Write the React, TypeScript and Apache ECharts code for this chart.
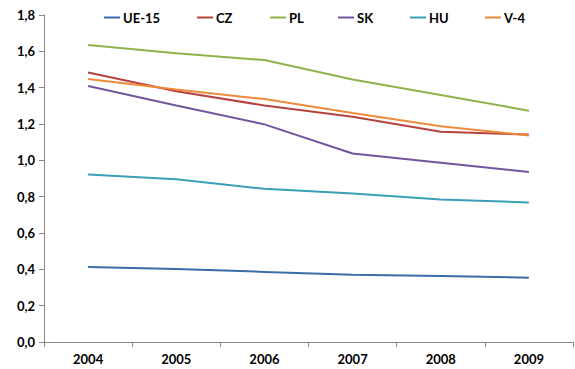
import React, { useEffect, useRef } from "react";
import * as echarts from "echarts";

const years = ["2004", "2005", "2006", "2007", "2008", "2009"];
const seriesNames = ["UE-15", "CZ", "PL", "SK", "HU", "V-4"];
const ue15 = [0.413, 0.402, 0.386, 0.37, 0.363, 0.354];
const cz = [1.483, 1.38, 1.302, 1.24, 1.157, 1.142];
const pl = [1.635, 1.59, 1.552, 1.445, 1.36, 1.273];
const sk = [1.409, 1.302, 1.198, 1.038, 0.987, 0.936];
const hu = [0.922, 0.896, 0.843, 0.818, 0.784, 0.768];
const v4 = [1.448, 1.39, 1.337, 1.26, 1.188, 1.137];
const colors = ["#3C6DAA", "#B5423E", "#8DB34B", "#73559E", "#3A9FB6", "#EE8A3A"];
const legendLeft = [104, 197, 270, 338, 410, 485];

export default function App() {
  const ref = useRef<HTMLDivElement>(null);
  useEffect(() => {
    if (!ref.current) return;
    document.body.style.margin = "0";
    const chart = echarts.init(ref.current, null, { renderer: "svg" });
    const data = [ue15, cz, pl, sk, hu, v4];
    chart.setOption({
      animation: false,
      color: colors,
      textStyle: { fontFamily: "Lato" },
      legend: seriesNames.map((n, i) => ({
        top: 11,
        left: legendLeft[i],
        padding: 0,
        icon: "rect",
        itemWidth: 16,
        itemHeight: 2,
        textStyle: { fontFamily: "Lato", fontWeight: "bold", fontSize: 13, color: "#000", padding: [0, 0, 0, -2] },
        data: [n],
      })),
      grid: { left: 44, right: 2, top: 15, bottom: 27, containLabel: false },
      xAxis: {
        type: "category",
        data: years,
        boundaryGap: true,
        axisLine: { lineStyle: { color: "#868686" } },
        axisTick: { show: true, length: 5, lineStyle: { color: "#868686" } },
        axisLabel: { color: "#000", fontWeight: "bold", fontSize: 13, margin: 10 },
      },
      yAxis: {
        type: "value",
        min: 0,
        max: 1.8,
        interval: 0.2,
        splitLine: { show: false },
        axisLine: { show: true, lineStyle: { color: "#868686" } },
        axisTick: { show: true, length: 5, lineStyle: { color: "#868686" } },
        axisLabel: {
          color: "#000",
          fontWeight: "bold",
          fontSize: 13,
          margin: 9,
          formatter: (v: number) => v.toFixed(1).replace(".", ","),
        },
      },
      series: seriesNames.map((n, i) => ({
        name: n,
        type: "line",
        data: data[i],
        symbol: "none",
        lineStyle: { width: 2 },
      })),
    });
    return () => chart.dispose();
  }, []);
  return <div ref={ref} style={{ width: 575, height: 369 }} />;
}
